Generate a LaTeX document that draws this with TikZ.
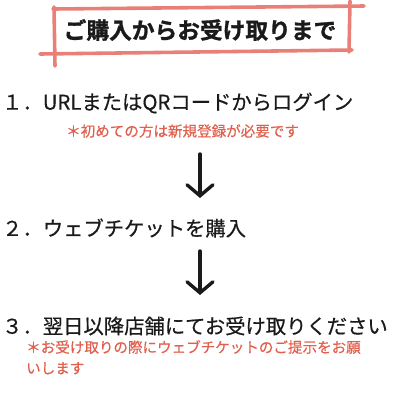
\documentclass[tikz,border=0pt]{standalone}
\usepackage{fontspec}
\setmainfont{Noto Sans CJK JP}
\newfontfamily\jpmid[FakeBold=0.5]{Noto Sans CJK JP}
\newfontfamily\jpheavy[FakeBold=1.2]{Noto Sans CJK JP Bold}
\usetikzlibrary{arrows.meta,positioning}
\definecolor{flowInk}{HTML}{1A1A1A}
\definecolor{flowRed}{HTML}{E0604E}
\definecolor{flowFrame}{HTML}{E98077}

\begin{document}
\begin{tikzpicture}[
  x=1bp, y=-1bp,
  >={Straight Barb[length=11bp, width=26bp, line cap=round]},
  stepline/.style={anchor=west, inner sep=0pt, text=flowInk, font=\jpmid\fontsize{20.4}{24}\selectfont},
  noteline/.style={anchor=west, inner sep=0pt, text=flowRed, align=left,
                   font=\jpmid\fontsize{14.6}{21}\selectfont},
  frame/.style={draw=flowFrame, line width=3.6pt, line cap=round},
  flow/.style={->, draw=flowInk, line width=3.4pt, line cap=round},
]
\useasboundingbox (0,0) rectangle (400,400);
% title frame, drawn as loose strokes
\draw[frame] (53,9) -- (364,6);
\draw[frame] (54,7) -- (55,66);
\draw[frame] (40,54) -- (352,50);
\draw[frame] (350,1) -- (349,52);
\node[inner sep=0pt, text=flowInk, font=\jpheavy\fontsize{22.8}{26}\selectfont] (title) at (200,30) {ご購入からお受け取りまで};

\node[stepline] (stepA) at (2,103) {１．URLまたはQRコードからログイン};
\node[noteline] (noteA) at (66,131) {＊初めての方は新規登録が必要です};

\coordinate (arrAs) at (200,154);
\coordinate (arrAe) at (200,198);
\draw[flow] (arrAs) -- (arrAe);

\node[stepline] (stepB) at (2,228) {２．ウェブチケットを購入};

\coordinate (arrBs) at (200,251);
\coordinate (arrBe) at (200,295);
\draw[flow] (arrBs) -- (arrBe);

\node[stepline] (stepC) at (2,326) {３．翌日以降店舗にてお受け取りください};
\node[noteline, anchor=north west] (noteC) at (26,340) {＊お受け取りの際にウェブチケットのご提示をお願\\いします};
\end{tikzpicture}
\end{document}
